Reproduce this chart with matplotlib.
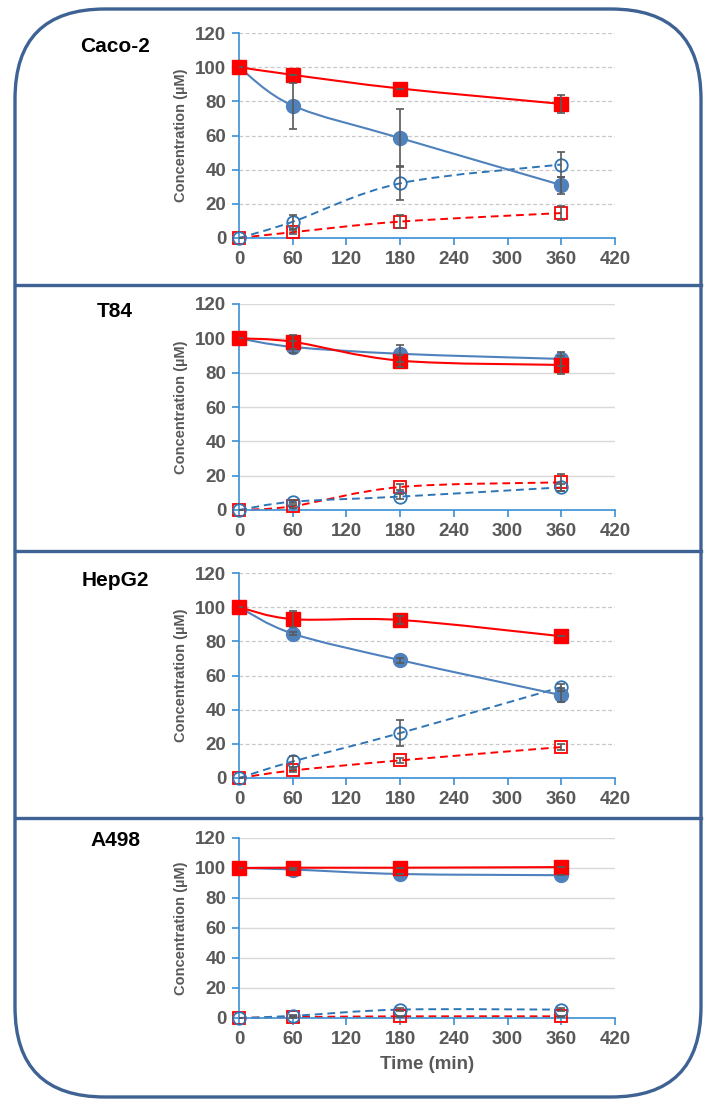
import matplotlib.pyplot as plt
import numpy as np
from matplotlib.path import Path
from matplotlib.patches import PathPatch, FancyBboxPatch

# time points (min)
time = [0, 60, 180, 360]

cells = ["Caco-2", "T84", "HepG2", "A498"]

# filled squares (red, solid line)
red_solid = [[100, 95.5, 87.5, 78.5],
             [100, 98, 87, 84.5],
             [100, 93, 92.5, 83],
             [100, 100.2, 100.2, 100.6]]
red_solid_err = [[0, 0, 0, 5.5],
                 [0, 4, 3.5, 5],
                 [0, 4.5, 2.5, 0],
                 [0, 0, 0, 0]]

# filled circles (blue, solid line)
blue_solid = [[100, 77.5, 58.5, 31],
              [100, 95, 91, 88],
              [100, 84.5, 69, 48.5],
              [100, 99, 96, 95.2]]
blue_solid_err = [[0, 13.5, 17, 5],
                  [0, 3.5, 5, 4],
                  [0, 1, 1.5, 4],
                  [0, 0, 0, 0]]

# open circles (blue, dashed line)
blue_open = [[0, 9.5, 32, 43],
             [0, 4.8, 7.8, 13.2],
             [0, 9.7, 26.3, 53.2],
             [0, 1.4, 5.6, 5.6]]
blue_open_err = [[0, 4, 10, 7.2],
                 [0, 1, 1.5, 2],
                 [0, 3, 7.5, 2],
                 [0, 0.5, 1, 1]]

# open squares (red, dashed line)
red_open = [[0, 3.4, 9.6, 14.6],
            [0, 2.2, 13.4, 16.1],
            [0, 4.4, 10.3, 18.1],
            [0, 0.6, 1.1, 1.1]]
red_open_err = [[0, 1, 3.8, 4],
                [0, 1, 2, 5],
                [0, 1, 1.5, 2],
                [0, 0.3, 0.5, 0.5]]

W, H = 717, 1109
fig = plt.figure(figsize=(W / 100, H / 100), dpi=100)

# frame with rounded corners and separators
bg = fig.add_axes([0, 0, 1, 1], zorder=-1)
bg.set_xlim(0, W)
bg.set_ylim(H, 0)
bg.axis("off")
frame_col = "#3E6293"
bg.add_patch(FancyBboxPatch((15, 9), 686, 1088, boxstyle="round,pad=0,rounding_size=90",
                            fill=False, ec=frame_col, lw=2.4))
for ys in [285, 551, 818]:
    bg.plot([15, 701], [ys, ys], color=frame_col, lw=2.4)

# panel boxes in pixels: (top, bottom)
panels = [(33, 238), (304, 510), (573, 778), (838, 1018)]
title_y = [46, 312, 580, 841]
dashed_grid = [True, False, True, False]

axis_col = "#3B8FD4"
tick_col = "#595959"
red = "#FF0000"
blue = "#4F81BD"
blue_d = "#2E75B6"
err_col = "#595959"


def smooth(ax, x, y, **kw):
    # Excel-like smoothed line through the points (bezier segments)
    pts = np.column_stack([x, y]).astype(float)
    n = len(pts)
    verts = [pts[0]]
    codes = [Path.MOVETO]
    for i in range(n - 1):
        p0 = pts[i - 1] if i > 0 else pts[i]
        p1 = pts[i]
        p2 = pts[i + 1]
        p3 = pts[i + 2] if i + 2 < n else pts[i + 1]
        verts += [p1 + (p2 - p0) / 6, p2 - (p3 - p1) / 6, p2]
        codes += [Path.CURVE4] * 3
    ax.add_patch(PathPatch(Path(verts, codes), fill=False, clip_on=False, **kw))


for k, (top, bot) in enumerate(panels):
    ax = fig.add_axes([239 / W, 1 - bot / H, (615 - 239) / W, (bot - top) / H])
    ax.set_facecolor("none")
    ax.set_xlim(0, 420)
    ax.set_ylim(0, 120)
    ax.set_xticks(range(0, 421, 60))
    ax.set_yticks(range(0, 121, 20))
    for s in ["top", "right"]:
        ax.spines[s].set_visible(False)
    for s in ["left", "bottom"]:
        ax.spines[s].set_color(axis_col)
        ax.spines[s].set_linewidth(1.2)
    ax.tick_params(direction="out", length=5, width=1.2, color=axis_col,
                   labelcolor=tick_col, labelsize=13.5, pad=4)
    for lab in ax.get_xticklabels() + ax.get_yticklabels():
        lab.set_fontweight("bold")
        lab.set_fontfamily("Liberation Sans")
    if dashed_grid[k]:
        ax.grid(axis="y", color="#C8C8C8", lw=0.9, ls=(0, (3, 2)))
    else:
        ax.grid(axis="y", color="#D9D9D9", lw=1.0)
    ax.set_axisbelow(True)
    ax.set_ylabel("Concentration (µM)", fontsize=10.5, fontweight="bold",
                  color=tick_col, family="Liberation Sans", labelpad=5)

    # lines
    smooth(ax, time, red_open[k], color=red, lw=1.4, ls=(0, (4, 2.5)), zorder=2)
    smooth(ax, time, blue_open[k], color=blue_d, lw=1.4, ls=(0, (4, 2.5)), zorder=2)
    smooth(ax, time, blue_solid[k], color=blue, lw=1.5, zorder=2)
    smooth(ax, time, red_solid[k], color=red, lw=1.5, zorder=2)

    # markers
    ax.plot(time, red_open[k], ls="none", marker="s", ms=9, mfc="none", mec=red, mew=1.3,
            zorder=3, clip_on=False)
    ax.plot(time, blue_open[k], ls="none", marker="o", ms=9, mfc="none", mec=blue_d, mew=1.3,
            zorder=3, clip_on=False)
    ax.plot(time, blue_solid[k], ls="none", marker="o", ms=10, color=blue, zorder=3, clip_on=False)
    ax.plot(time, red_solid[k], ls="none", marker="s", ms=10, color=red, zorder=4, clip_on=False)

    # error bars
    for yv, ev in [(red_open[k], red_open_err[k]), (blue_open[k], blue_open_err[k]),
                   (blue_solid[k], blue_solid_err[k]), (red_solid[k], red_solid_err[k])]:
        ax.errorbar(time, yv, yerr=ev, fmt="none", ecolor=err_col, elinewidth=1.2,
                    capsize=3, capthick=1.2, zorder=5)

    fig.text(115 / W, 1 - title_y[k] / H, cells[k], ha="center", va="center",
             fontsize=15, fontweight="bold", family="Liberation Sans", color="black")

    if k == 3:
        ax.set_xlabel("Time (min)", fontsize=13.5, fontweight="bold", color=tick_col,
                      family="Liberation Sans", labelpad=6)

fig.savefig("out.png", dpi=100)
